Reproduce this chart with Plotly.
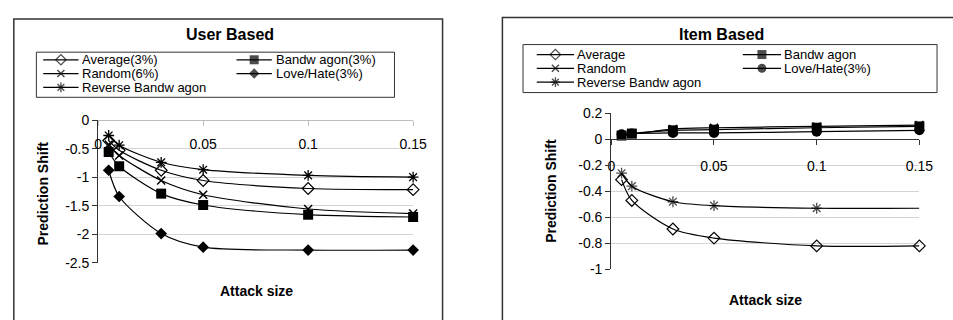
import plotly.graph_objects as go

# Attack sizes (fraction of profiles injected)
attack_size = [0.005, 0.01, 0.03, 0.05, 0.1, 0.15]

# User-based prediction shift
ub_average = [-0.36, -0.53, -0.88, -1.06, -1.20, -1.22]
ub_bandwagon = [-0.56, -0.81, -1.29, -1.49, -1.66, -1.70]
ub_random = [-0.43, -0.62, -1.06, -1.31, -1.56, -1.64]
ub_lovehate = [-0.88, -1.34, -1.99, -2.23, -2.28, -2.28]
ub_reverse = [-0.27, -0.44, -0.74, -0.87, -0.97, -1.00]

# Item-based prediction shift
ib_average = [-0.31, -0.47, -0.69, -0.76, -0.82, -0.82]
ib_bandwagon = [0.03, 0.045, 0.07, 0.075, 0.09, 0.10]
ib_random = [0.03, 0.04, 0.08, 0.09, 0.10, 0.11]
ib_lovehate = [0.04, 0.045, 0.05, 0.05, 0.06, 0.07]
ib_reverse = [-0.26, -0.36, -0.48, -0.51, -0.53, -0.53]

# Legend labels
ub_names = ["Average(3%)", "Bandw agon(3%)", "Random(6%)", "Love/Hate(3%)", "Reverse Bandw agon"]
ib_names = ["Average", "Bandw agon", "Random", "Love/Hate(3%)", "Reverse Bandw agon"]

# Tick labels
x_tickvals = [0, 0.05, 0.1, 0.15]
x_ticktext = ["0", "0.05", "0.1", "0.15"]
ub_y_tickvals = [0, -0.5, -1, -1.5, -2, -2.5]
ub_y_ticktext = ["0", "-0.5", "-1", "-1.5", "-2", "-2.5"]
ib_y_tickvals = [0.2, 0, -0.2, -0.4, -0.6, -0.8, -1]
ib_y_ticktext = ["0.2", "0", "-0.2", "-0.4", "-0.6", "-0.8", "-1"]

W, H = 953, 320
FONT = "Liberation Sans, Arial, sans-serif"


def px(x):
    return x / W


def py(y):
    return 1 - y / H


STYLES = {
    "average": dict(symbol="diamond-open", size=9, color="black", line=dict(color="black", width=1.2)),
    "bandwagon": dict(symbol="square", size=10, color="black", line=dict(color="black", width=0)),
    "random": dict(symbol="x-thin", size=8, color="black", line=dict(color="black", width=1.5)),
    "lovehate_d": dict(symbol="diamond", size=9, color="black", line=dict(color="black", width=0)),
    "lovehate_c": dict(symbol="circle", size=10, color="black", line=dict(color="black", width=0)),
    "reverse": dict(symbol="asterisk", size=9, color="black", line=dict(color="black", width=1.3)),
}

fig = go.Figure()


def add_series(y, style, xa, ya, sizes=None):
    marker = dict(STYLES[style])
    if sizes is not None:
        marker["size"] = sizes
    fig.add_trace(go.Scatter(
        x=attack_size, y=y, mode="lines+markers",
        line=dict(color="black", width=1.2, shape="spline", smoothing=0.8),
        marker=marker, xaxis=xa, yaxis=ya, showlegend=False, cliponaxis=False,
    ))


# User based panel
add_series(ub_lovehate, "lovehate_d", "x", "y")
add_series(ub_bandwagon, "bandwagon", "x", "y")
add_series(ub_random, "random", "x", "y")
add_series(ub_average, "average", "x", "y")
add_series(ub_reverse, "reverse", "x", "y")

# Item based panel
add_series(ib_average, "average", "x2", "y2")
add_series(ib_reverse, "reverse", "x2", "y2", sizes=[9, 9, 9, 9, 9, 0])
add_series(ib_lovehate, "lovehate_c", "x2", "y2")
add_series(ib_bandwagon, "bandwagon", "x2", "y2")
add_series(ib_random, "random", "x2", "y2")

LEGEND_FONT = dict(family=FONT, size=13, color="black")


# Legend glyphs drawn on a pixel-space overlay axis
def legend_entry(x0, x1, row_y, style, text, text_x):
    xm = (x0 + x1) / 2
    marker = dict(STYLES[style])
    marker["size"] = [0, max(STYLES[style]["size"] - 1, 6), 0]
    fig.add_trace(go.Scatter(
        x=[x0, xm, x1], y=[row_y, row_y, row_y], mode="lines+markers",
        line=dict(color="black", width=1.2), marker=marker,
        xaxis="x3", yaxis="y3", showlegend=False, hoverinfo="skip",
    ))
    fig.add_annotation(x=px(text_x), y=py(row_y), xref="paper", yref="paper",
                       text=text, showarrow=False, xanchor="left", yanchor="middle",
                       borderpad=0, font=LEGEND_FONT)


ub_rows = [54.5, 69, 83.5]
legend_entry(40, 76, ub_rows[0], "average", ub_names[0], 78)
legend_entry(237, 273, ub_rows[0], "bandwagon", ub_names[1], 276)
legend_entry(40, 76, ub_rows[1], "random", ub_names[2], 78)
legend_entry(237, 273, ub_rows[1], "lovehate_d", ub_names[3], 276)
legend_entry(40, 76, ub_rows[2], "reverse", ub_names[4], 78)

ib_rows = [49, 63.5, 78]
legend_entry(543, 581, ib_rows[0], "average", ib_names[0], 583)
legend_entry(753, 792, ib_rows[0], "bandwagon", ib_names[1], 794)
legend_entry(543, 581, ib_rows[1], "random", ib_names[2], 583)
legend_entry(753, 792, ib_rows[1], "lovehate_c", ib_names[3], 794)
legend_entry(543, 581, ib_rows[2], "reverse", ib_names[4], 583)

axis_font = dict(family=FONT, size=14, color="black")
grid = "#d4d4d4"

fig.update_layout(
    width=W, height=H, margin=dict(l=0, r=0, t=0, b=0),
    paper_bgcolor="white", plot_bgcolor="rgba(0,0,0,0)",
    font=dict(family=FONT, color="black"),
    xaxis=dict(domain=[px(96), px(417)], range=[0, 0.15], anchor="free", position=py(118),
               tickvals=x_tickvals, ticktext=x_ticktext, showgrid=False, zeroline=False,
               showline=True, linecolor="#bdbdbd", linewidth=1, ticks="outside", ticklen=5,
               tickcolor="#bdbdbd", tickfont=axis_font, ticklabelstandoff=6),
    yaxis=dict(domain=[py(268), py(118)], range=[-2.5, 0], anchor="x",
               tickvals=ub_y_tickvals, ticktext=ub_y_ticktext, showgrid=True, gridcolor=grid,
               zeroline=False, showline=True, linecolor="#333333", linewidth=1.2,
               ticks="outside", ticklen=5, tickcolor="#333333", tickfont=axis_font),
    xaxis2=dict(domain=[px(619), px(933)], range=[0, 0.15], anchor="free", position=py(138.3),
                tickvals=x_tickvals, ticktext=x_ticktext, showgrid=False, zeroline=False,
                showline=True, linecolor="#333333", linewidth=1.2, ticks="outside", ticklen=5,
                tickcolor="#333333", tickfont=axis_font, ticklabelstandoff=9),
    yaxis2=dict(domain=[py(275), py(111)], range=[-1, 0.2], anchor="x2",
                tickvals=ib_y_tickvals, ticktext=ib_y_ticktext, showgrid=True, gridcolor=grid,
                zeroline=False, showline=True, linecolor="#333333", linewidth=1.2,
                ticks="outside", ticklen=5, tickcolor="#333333", tickfont=axis_font),
    xaxis3=dict(domain=[0, 1], range=[0, W], visible=False, anchor="y3", fixedrange=True),
    yaxis3=dict(domain=[0, 1], range=[H, 0], visible=False, anchor="x3", fixedrange=True),
)

title_font = dict(family=FONT, size=16, color="black")
label_font = dict(family=FONT, size=14, color="black")
annots = [
    dict(x=px(230), y=py(28), text="<b>User Based</b>", font=title_font),
    dict(x=px(731), y=py(28), text="<b>Item Based</b>", font=title_font),
    dict(x=px(257), y=py(298), text="<b>Attack size</b>", font=label_font),
    dict(x=px(776), y=py(307), text="<b>Attack size</b>", font=label_font),
    dict(x=px(40), y=py(195), text="<b>Prediction Shift</b>", font=label_font, textangle=-90),
    dict(x=px(558), y=py(192), text="<b>Prediction Shift</b>", font=label_font, textangle=-90),
]
for a in annots:
    fig.add_annotation(xref="paper", yref="paper", showarrow=False,
                       xanchor="center", yanchor="middle", **a)

# Chart frames and legend boxes
frame = dict(color="#333333", width=1.5)
fig.add_shape(type="rect", xref="paper", yref="paper", x0=px(10), x1=px(447), y0=py(340), y1=py(11.5), line=frame)
fig.add_shape(type="rect", xref="paper", yref="paper", x0=px(508), x1=px(980), y0=py(340), y1=py(10), line=frame)
box = dict(color="#333333", width=1)
fig.add_shape(type="rect", xref="paper", yref="paper", x0=px(33), x1=px(398), y0=py(94), y1=py(46.5), line=box)
fig.add_shape(type="rect", xref="paper", yref="paper", x0=px(529), x1=px(951), y0=py(89), y1=py(38.5), line=box)

fig.write_html("out.html")
